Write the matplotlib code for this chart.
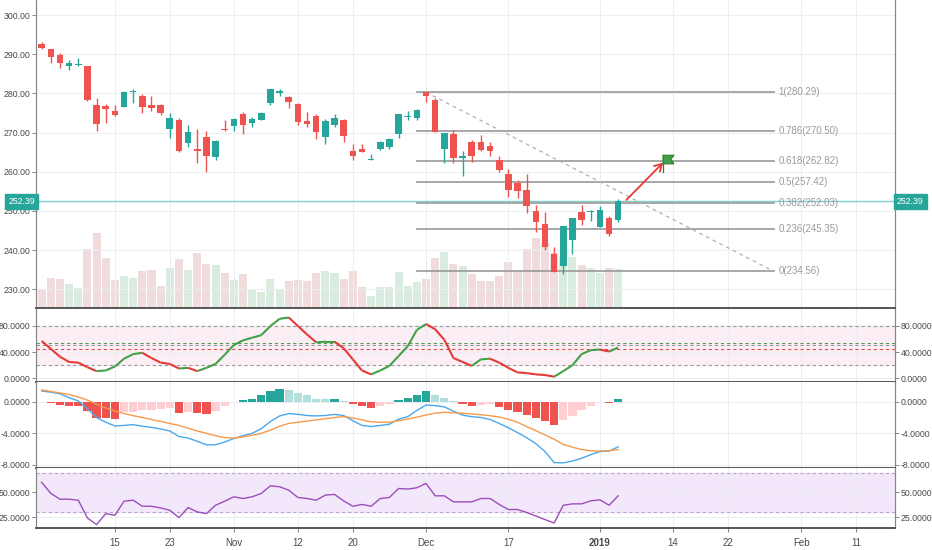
import numpy as np
import matplotlib
matplotlib.use("Agg")
import matplotlib.pyplot as plt
from matplotlib.collections import LineCollection
from matplotlib.patches import Polygon
import matplotlib.transforms as mtransforms

plt.rcParams['font.family'] = ['Liberation Sans', 'DejaVu Sans']

# daily bars, Oct 3 2018 .. Jan 4 2019 (index = trading day)
opens = [292.7, 291.2, 289.7, 287.1, 287.3, 287.1, 277.1, 276.8, 275.6, 276.6,
         280.3, 279.4, 277.1, 277.0, 270.9, 273.3, 267.4, 265.9, 268.8, 263.7,
         270.65, 271.6, 274.8, 272.4, 273.3, 277.6, 280.1, 279.0, 277.2, 273.0,
         274.2, 268.8, 271.8, 273.2, 265.4, 265.9, 263.1, 265.8, 266.4, 269.6,
         273.9, 273.8, 280.3, 278.4, 265.9, 269.5, 263.4, 267.7, 267.7, 266.5,
         262.9, 259.4, 257.2, 255.2, 249.9, 246.7, 239.0, 236.0, 242.6, 249.6,
         249.6, 245.98, 248.2, 247.6]
highs = [293.2, 291.4, 290.3, 288.4, 288.9, 287.1, 278.9, 277.3, 277.0, 280.5,
         281.2, 279.9, 279.3, 277.4, 274.9, 273.8, 271.8, 271.0, 270.3, 268.1,
         273.2, 273.7, 275.2, 274.0, 275.3, 281.1, 281.2, 279.2, 277.5, 275.2,
         274.6, 273.4, 274.7, 273.4, 267.0, 267.1, 264.6, 267.8, 268.6, 274.6,
         275.6, 276.1, 280.4, 278.9, 269.97, 270.6, 265.2, 267.99, 269.3, 267.7,
         264.0, 260.6, 257.95, 259.4, 251.6, 249.7, 240.8, 246.2, 248.3, 251.4,
         250.2, 251.2, 248.6, 253.1]
lows = [291.3, 287.7, 286.4, 285.9, 286.9, 278.0, 270.4, 272.4, 274.3, 276.4,
        277.5, 274.9, 275.5, 274.4, 268.6, 264.9, 266.2, 262.3, 259.9, 263.1,
        270.3, 270.4, 269.6, 271.4, 273.1, 277.1, 279.4, 276.2, 271.9, 271.3,
        268.3, 267.0, 271.3, 267.6, 263.1, 264.9, 263.0, 265.5, 265.9, 268.5,
        273.2, 273.3, 277.7, 270.1, 262.3, 262.3, 258.9, 262.6, 265.3, 264.1,
        259.8, 253.5, 253.3, 249.35, 244.7, 239.98, 234.3, 233.8, 238.96, 246.45,
        247.5, 245.95, 243.67, 247.2]
closes = [291.7, 289.4, 287.8, 287.8, 287.4, 278.3, 272.2, 276.0, 274.4, 280.4,
          280.45, 276.4, 276.25, 275.0, 273.6, 265.3, 270.1, 265.3, 263.9, 267.8,
          270.63, 273.5, 271.9, 273.4, 275.1, 281.0, 280.5, 277.8, 272.6, 272.1,
          270.2, 273.0, 273.7, 269.1, 264.1, 265.0, 263.25, 267.5, 268.4, 274.6,
          274.0, 275.65, 279.3, 270.25, 269.84, 263.6, 264.1, 264.1, 265.5, 265.4,
          260.5, 255.4, 255.1, 251.3, 247.2, 240.7, 234.3, 246.18, 248.07, 247.75,
          249.92, 250.18, 244.21, 252.39]
volume = [65, 104, 102, 83, 71, 205, 264, 174, 98, 113,
          106, 131, 133, 78, 141, 170, 133, 194, 154, 150,
          124, 98, 118, 65, 57, 100, 65, 95, 98, 96,
          121, 131, 124, 100, 131, 72, 43, 75, 72, 125,
          77, 92, 100, 174, 197, 154, 147, 118, 95, 95,
          113, 162, 130, 207, 244, 226, 191, 180, 179, 150,
          139, 121, 139, 135]

stoch = [57, 45, 33, 25, 24, 17, 11, 12, 18, 30,
         37, 39, 31, 24, 22, 15, 16, 11, 16, 22,
         36, 51, 58, 62, 66, 80, 91, 93, 80, 67,
         55, 56, 56, 46, 29, 12, 6, 12, 19, 34,
         49, 74, 83, 75, 59, 31, 25, 19, 29, 30,
         24, 16, 9, 8, 6, 5, 2.5, 11, 20, 37,
         43, 44, 41, 47]

macd = [1.35, 1.2, 1.0, 0.5, 0.1, -0.9, -2.0, -2.6, -3.07, -3.0,
        -2.9, -3.1, -3.25, -3.45, -3.7, -4.4, -4.6, -5.0, -5.45, -5.45,
        -5.1, -4.65, -4.3, -4.0, -3.4, -2.5, -1.8, -1.5, -1.6, -1.75,
        -1.8, -1.75, -1.6, -1.75, -2.4, -3.0, -3.15, -3.0, -2.85, -2.2,
        -1.9, -1.1, -0.42, -0.5, -0.65, -1.2, -1.7, -1.9, -2.0, -2.25,
        -2.75, -3.3, -3.9, -4.55, -5.3, -6.3, -7.7, -7.74, -7.5, -7.15,
        -6.7, -6.3, -6.25, -5.7]
signal = [1.48, 1.3, 1.1, 0.9, 0.6, 0.2, -0.3, -0.8, -1.17, -1.5,
          -1.77, -2.0, -2.25, -2.5, -2.75, -3.0, -3.36, -3.7, -4.0, -4.3,
          -4.54, -4.6, -4.45, -4.25, -4.0, -3.6, -3.1, -2.75, -2.6, -2.45,
          -2.3, -2.15, -2.0, -1.89, -2.05, -2.3, -2.55, -2.6, -2.6, -2.4,
          -2.2, -1.95, -1.68, -1.45, -1.34, -1.4, -1.47, -1.55, -1.65, -1.77,
          -1.95, -2.23, -2.6, -3.15, -3.65, -4.2, -4.75, -5.4, -5.75, -6.05,
          -6.2, -6.25, -6.2, -6.05]
hist = [-0.05, -0.2, -0.4, -0.5, -0.55, -1.2, -2.0, -2.05, -2.2, -1.3,
        -1.25, -1.1, -1.0, -0.9, -0.8, -1.45, -1.35, -1.45, -1.55, -1.2,
        -0.5, -0.1, 0.15, 0.4, 0.8, 1.4, 1.6, 1.5, 1.1, 0.8,
        0.4, 0.35, 0.4, 0.05, -0.3, -0.6, -0.8, -0.5, -0.3, 0.2,
        0.5, 0.9, 1.3, 0.8, 0.5, 0.05, -0.3, -0.6, -0.4, -0.35,
        -0.7, -1.05, -1.35, -1.7, -2.0, -2.4, -2.95, -2.3, -1.77, -1.05,
        -0.5, -0.05, -0.2, 0.4]

rsi = [60.1, 49, 43.2, 43.2, 42.2, 24.3, 17.6, 28.7, 27, 41.2,
       42.2, 36.1, 36.1, 34.4, 32.1, 24.7, 34.8, 30.4, 28.7, 37.1,
       41.2, 45.6, 43.9, 45.6, 49, 56.7, 55.7, 52.3, 44.9, 43.9,
       42.2, 47.3, 48, 41.5, 36.1, 37.9, 36.1, 43.9, 44.9, 54,
       53.4, 54.7, 59.1, 46.6, 46.6, 40.5, 40.5, 40.5, 43.9, 43.9,
       37.9, 32.8, 32.8, 29.8, 26.3, 22.7, 19.2, 37.1, 38.5, 38.5,
       41.5, 42.6, 37.1, 46.6]

fib_ratios = ["1", "0.786", "0.618", "0.5", "0.382", "0.236", "0"]
fib_prices = [280.29, 270.50, 262.82, 257.42, 252.03, 245.35, 234.56]
fib_start, fib_end = 41, 80
last_price = 252.39
arrow_from = (63.9, 252.8)
arrow_to = (67.9, 262.3)

tick_pos = [8, 14, 21, 28, 34, 42, 51, 61, 69, 75, 83, 89]
tick_lab = ["15", "23", "Nov", "12", "20", "Dec", "17", "2019", "14", "22", "Feb", "11"]

up_c = "#26a69a"
dn_c = "#ef5350"
grid_c = "#eceef3"
sep_c = "#555555"
txt_c = "#4a4a4a"

W, H = 932, 550
fig = plt.figure(figsize=(W / 100, H / 100), dpi=100)
fig.patch.set_facecolor("white")


def box(top, bot):
    return [36 / W, 1 - bot / H, 859 / W, (bot - top) / H]


ax = fig.add_axes(box(0, 308))
ax_st = fig.add_axes(box(308, 382.3))
ax_m = fig.add_axes(box(382.3, 468.3))
ax_r = fig.add_axes(box(468.3, 528))
axes = [ax, ax_st, ax_m, ax_r]

x = np.arange(len(closes))
xlim = (-0.62, 93.25)

for a in axes:
    a.set_xlim(*xlim)
    a.set_xticks(tick_pos)
    a.grid(True, color=grid_c, lw=0.8, zorder=0)
    a.set_axisbelow(True)
    a.tick_params(axis="y", left=True, right=True, labelleft=True, labelright=True,
                  direction="out", length=3, width=0.7, color="#888888",
                  labelcolor=txt_c, labelsize=6.3, pad=1)
    a.tick_params(axis="x", length=0, labelbottom=False)
    for s in ["left", "right"]:
        a.spines[s].set_color("#888888")
        a.spines[s].set_linewidth(0.9)
    a.spines["top"].set_visible(False)
    a.spines["bottom"].set_color(sep_c)
    a.spines["bottom"].set_linewidth(1.4)

# volume (behind the candles)
ax_v = ax.twinx()
ax_v.set_ylim(0, 308 * 3.5)
ax_v.axis("off")
vol_col = ["#d9ecdf" if c >= o else "#f0dcdc" for o, c in zip(opens, closes)]
ax_v.bar(x, volume, width=0.88, color=vol_col, zorder=1)
ax.set_zorder(ax_v.get_zorder() + 1)
ax.patch.set_visible(False)

# candles
o = np.array(opens)
c = np.array(closes)
col = [up_c if cc >= oo else dn_c for oo, cc in zip(o, c)]
ax.vlines(x, lows, highs, colors=col, lw=1, zorder=3)
body = np.maximum(np.abs(c - o), 0.25)
ax.bar(x, body, bottom=np.minimum(o, c), width=0.72, color=col, zorder=4)

ax.set_ylim(225.2, 303.83)
ax.set_yticks(np.arange(230, 301, 10))
ax.yaxis.set_major_formatter(matplotlib.ticker.FormatStrFormatter("%.2f"))

# last price line and labels
ax.axhline(last_price, color="#7fd0c6", lw=1, zorder=2)
tr = mtransforms.blended_transform_factory(ax.transAxes, ax.transData)
for xx, ha in [(-0.001, "right"), (1.002, "left")]:
    ax.text(xx, last_price, "%.2f" % last_price, transform=tr, ha=ha, va="center",
            color="white", fontsize=6.3, zorder=10, clip_on=False,
            bbox=dict(boxstyle="square,pad=0.35", fc=up_c, ec=up_c))

# fibonacci retracement
for r, p in zip(fib_ratios, fib_prices):
    ax.plot([fib_start, fib_end], [p, p], color="#a0a0a0", lw=1.3, zorder=2)
    ax.text(fib_end + 0.5, p, "%s(%.2f)" % (r, p), color="#9a9a9a", fontsize=7,
            ha="left", va="center", zorder=5)
ax.plot([fib_start + 1, fib_end], [fib_prices[0], fib_prices[-1]], color="#b0b0b0",
        lw=0.9, ls=(0, (3, 3)), zorder=2)

# arrow and flag
ax.annotate("", xy=arrow_to, xytext=arrow_from, zorder=6,
            arrowprops=dict(arrowstyle="->,head_length=0.5,head_width=0.3",
                            color="#e53935", lw=1.3, shrinkA=0, shrinkB=0))
fx, fy = arrow_to
ax.plot([fx, fx], [fy - 2.5, fy + 1.9], color="#2e7d32", lw=0.9, zorder=7)
ax.add_patch(Polygon([(fx, fy + 1.9), (fx + 1.2, fy + 1.9), (fx + 0.85, fy + 0.9),
                      (fx + 1.2, fy - 0.3), (fx, fy - 0.3)],
                     closed=True, fc="#43a047", ec="#2e7d32", lw=0.8, zorder=7))

# stochastic panel
ax_st.set_ylim(-6.1, 107.5)
ax_st.set_yticks([0, 40, 80])
ax_st.yaxis.set_major_formatter(matplotlib.ticker.FormatStrFormatter("%.4f"))
ax_st.axhspan(20, 80, color="#fbeff5", zorder=0)
for lvl, lc in [(80, "#999999"), (20, "#999999"), (54.4, "#5a9a5a"), (50.5, "#999999"), (45.3, "#e05050")]:
    ax_st.axhline(lvl, color=lc, lw=0.8, ls=(0, (3, 2.5)), zorder=1)
pts = np.column_stack([x, stoch])
segs = np.stack([pts[:-1], pts[1:]], axis=1)
seg_col = ["#43a047" if stoch[i + 1] >= stoch[i] else "#e53935" for i in range(len(stoch) - 1)]
ax_st.add_collection(LineCollection(segs, colors=seg_col, linewidths=1.5, zorder=3))

# macd panel
ax_m.set_ylim(-8.42, 2.45)
ax_m.set_yticks([-8, -4, 0])
ax_m.yaxis.set_major_formatter(matplotlib.ticker.FormatStrFormatter("%.4f"))
h_col = []
for i, hv in enumerate(hist):
    prev = hist[i - 1] if i > 0 else hv
    if hv >= 0:
        h_col.append("#26a69a" if hv >= prev else "#b2dfdb")
    else:
        h_col.append("#ef5350" if hv < prev else "#ffcdd2")
ax_m.bar(x, hist, width=0.9, color=h_col, zorder=2)
ax_m.plot(x, macd, color="#4aa8ee", lw=1, zorder=3)
ax_m.plot(x, signal, color="#f79a4a", lw=1, zorder=3)

# rsi panel
ax_r.set_ylim(14.2, 74.3)
ax_r.set_yticks([25, 50])
ax_r.yaxis.set_major_formatter(matplotlib.ticker.FormatStrFormatter("%.4f"))
ax_r.axhspan(30, 70, color="#f3e7fc", zorder=0)
for lvl in [70, 30]:
    ax_r.axhline(lvl, color="#b8a8c8", lw=0.8, ls=(0, (3, 2.5)), zorder=1)
ax_r.plot(x, rsi, color="#9c4dbb", lw=1, zorder=3)

ax_r.tick_params(axis="x", length=3, color="#888888", labelbottom=True,
                 labelsize=7, labelcolor=txt_c, pad=4)
ax_r.set_xticklabels(tick_lab)
for t in ax_r.get_xticklabels():
    if t.get_text() == "2019":
        t.set_fontweight("bold")

fig.savefig("out.png", dpi=100)
